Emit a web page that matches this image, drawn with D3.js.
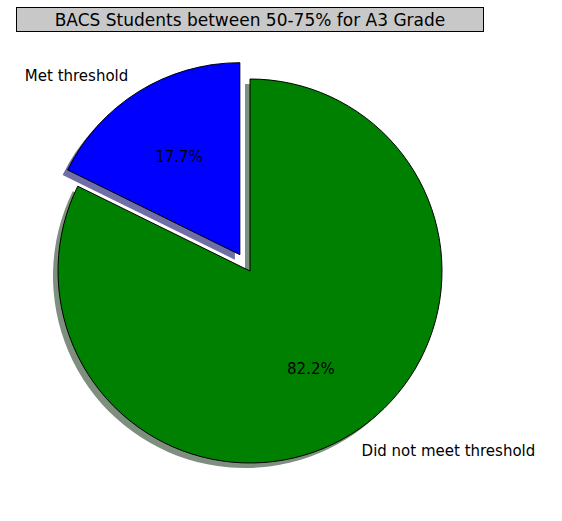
<!DOCTYPE html>
<html><head><meta charset="utf-8">
<script src="https://cdn.jsdelivr.net/npm/d3@7"></script>
<style>body{margin:0;background:#fff}text{font-family:"DejaVu Sans",sans-serif}</style>
</head><body>
<svg id="c" width="562" height="521"></svg>
<script>
var labels = ["Met threshold", "Did not meet threshold"];
var values = [17.7, 82.2];
var pctText = ["17.7%", "82.2%"];
var colors = ["blue", "green"];
var shadowColors = ["#6f6fa6", "#7f8f7f"];
var explode = [0.1, 0];

var svg = d3.select("#c");
var cx = 250, cy = 271, r = 192;

var pie = d3.pie().sort(null).startAngle(0).endAngle(-2 * Math.PI);
var arcs = pie(values);
var arc = d3.arc().innerRadius(0).outerRadius(r);

function off(d, i, k) {
    var a = (d.startAngle + d.endAngle) / 2;
    return [Math.sin(a) * r * k, -Math.cos(a) * r * k];
}

var g = svg.append("g").attr("transform", "translate(" + cx + "," + cy + ")");

// shadows
g.selectAll(".sh").data(arcs).enter().append("path")
    .attr("d", arc)
    .attr("fill", function (d, i) { return shadowColors[i]; })
    .attr("transform", function (d, i) {
        var o = off(d, i, explode[i]);
        return "translate(" + (o[0] - 5) + "," + (o[1] + 5) + ")";
    });

g.selectAll(".sl").data(arcs).enter().append("path")
    .attr("d", arc)
    .attr("fill", function (d, i) { return colors[i]; })
    .attr("stroke", "black").attr("stroke-width", 1)
    .attr("stroke-linejoin", "round")
    .attr("transform", function (d, i) {
        var o = off(d, i, explode[i]);
        return "translate(" + o[0] + "," + o[1] + ")";
    });

g.selectAll(".pct").data(arcs).enter().append("text")
    .attr("x", function (d, i) { return off(d, i, explode[i] + 0.6)[0]; })
    .attr("y", function (d, i) { return off(d, i, explode[i] + 0.6)[1]; })
    .attr("text-anchor", "middle").attr("dy", "0.35em")
    .attr("font-size", 15)
    .text(function (d, i) { return pctText[i]; });

g.selectAll(".lab").data(arcs).enter().append("text")
    .attr("x", function (d, i) { return off(d, i, explode[i] + 1.1)[0]; })
    .attr("y", function (d, i) { return off(d, i, explode[i] + 1.1)[1]; })
    .attr("text-anchor", function (d, i) { return off(d, i, 1)[0] < 0 ? "end" : "start"; })
    .attr("dy", "0.35em")
    .attr("font-size", 15)
    .text(function (d, i) { return labels[i]; });

// title
svg.append("rect").attr("x", 16.5).attr("y", 7.5).attr("width", 467).attr("height", 24)
    .attr("fill", "#c8c8c8").attr("stroke", "black");
svg.append("text").attr("x", 250).attr("y", 20).attr("dy", "0.35em")
    .attr("text-anchor", "middle").attr("font-size", 17)
    .text("BACS Students between 50-75% for A3 Grade");
</script>
</body></html>
